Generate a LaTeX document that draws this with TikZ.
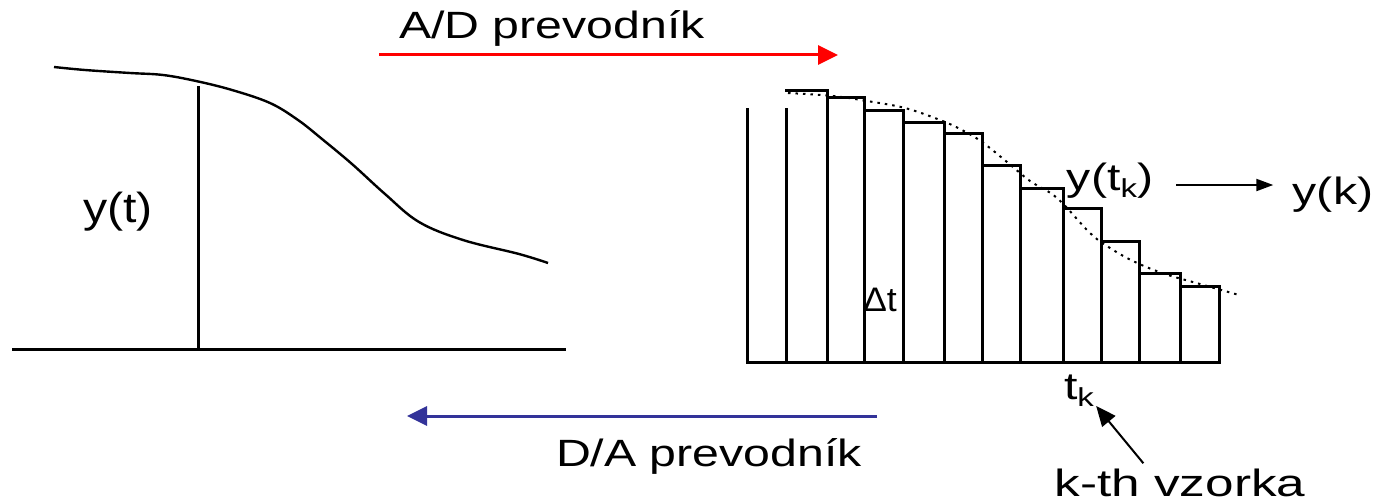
\documentclass[tikz,border=0pt]{standalone}
\usepackage{fontspec}
\setmainfont{Liberation Sans}
\usetikzlibrary{arrows.meta,calc}
\definecolor{adred}{RGB}{255,0,0}
\definecolor{dablue}{RGB}{51,51,153}
\newcommand{\stretchtxt}[2][1.27]{\scalebox{#1}[1]{#2}}
\begin{document}
\begin{tikzpicture}[x=1pt,y=-1pt,
  lbl/.style={inner sep=0pt,font=\fontsize{38}{40}\selectfont},
  axisline/.style={line width=3pt},
  barline/.style={line width=3pt,line cap=rect},
  signal/.style={line width=2.4pt},
  sampled/.style={line width=2pt,dash pattern=on 2.5pt off 5pt},
  convarrow/.style={line width=3pt,-{Triangle[length=20pt,width=19pt]}},
  thinarrow/.style={line width=2pt,-{Triangle[length=17pt,width=12pt]}}]
\useasboundingbox (0,0) rectangle (1383,503);
\fill[white] (0,0) rectangle (1383,503);

% ---- left: continuous signal
\draw[axisline] (12,349) -- (566,349);
\draw[axisline] (198,86) -- (198,349);
\draw[signal] plot[smooth,tension=0.6] coordinates {(54,67) (85,70) (130,73) (163,75) (196,81) (232,90) (270,103) (298,120) (322,139) (352,164) (385,194) (419,222) (463,240) (519,254) (548,263)};
\node[lbl] (yt) at (118,212) {\stretchtxt[1.15]{\fontsize{42}{44}\selectfont y(t)}};

% ---- right: sampled signal
\draw[barline] (747,109) -- (747,362) -- (1219,362);
\draw[barline] (786,109) -- (786,362);
\draw[barline] (786,90) -- (827,90) -- (827,362);
\foreach \xa/\xb/\tp in {827/864/97, 864/903/110, 903/944/122, 944/982/133, 982/1020/165, 1020/1063/188, 1063/1101/208, 1101/1139/241, 1139/1180/273, 1180/1219/286}{
  \draw[barline] (\xa,362) -- (\xa,\tp) -- (\xb,\tp) -- (\xb,362);
}
\draw[sampled] plot[smooth,tension=0.6] coordinates {(788,93) (833,96) (867,101) (905,108) (940,120) (962,130) (982,142) (1007,162) (1030,181) (1057,198) (1090,233) (1110,248) (1135,262) (1165,274) (1200,284) (1239,295)};

\node[lbl] (dt) at (880,300) {\stretchtxt[1.05]{\fontsize{34}{36}\selectfont Δt}};
\node[lbl] (ytk) at (1110,181) {\stretchtxt{y(t\raisebox{-0.35ex}{\fontsize{26}{28}\selectfont k})}};
\node[lbl] (yk) at (1333,195) {\stretchtxt{y(k)}};
\node[lbl] (tk) at (1079,391) {\stretchtxt{t\raisebox{-0.35ex}{\fontsize{26}{28}\selectfont k}}};
\node[lbl,anchor=base] (kth) at (1180,496) {\stretchtxt[1.35]{k-th vzorka}};

\draw[thinarrow] ($(ytk.east)+(23,4)$) -- ($(ytk.east)+(120,4)$);
\draw[thinarrow,-{Triangle[length=20pt,width=17pt]}] ($(kth.north west)+(89,-5)$) -- ($(tk.south east)+(2,-1)$);

% ---- converters
\coordinate (adS) at (379,55);
\coordinate (adE) at (838,55);
\draw[convarrow,adred] (adS) -- (adE);
\node[lbl,anchor=base] (ad) at (552,38) {\stretchtxt{A/D prevodník}};

\coordinate (daS) at (877,416);
\coordinate (daE) at (407,416);
\draw[convarrow,dablue] (daS) -- (daE);
\node[lbl,anchor=base] (da) at (709,466) {\stretchtxt{D/A prevodník}};
\end{tikzpicture}
\end{document}
